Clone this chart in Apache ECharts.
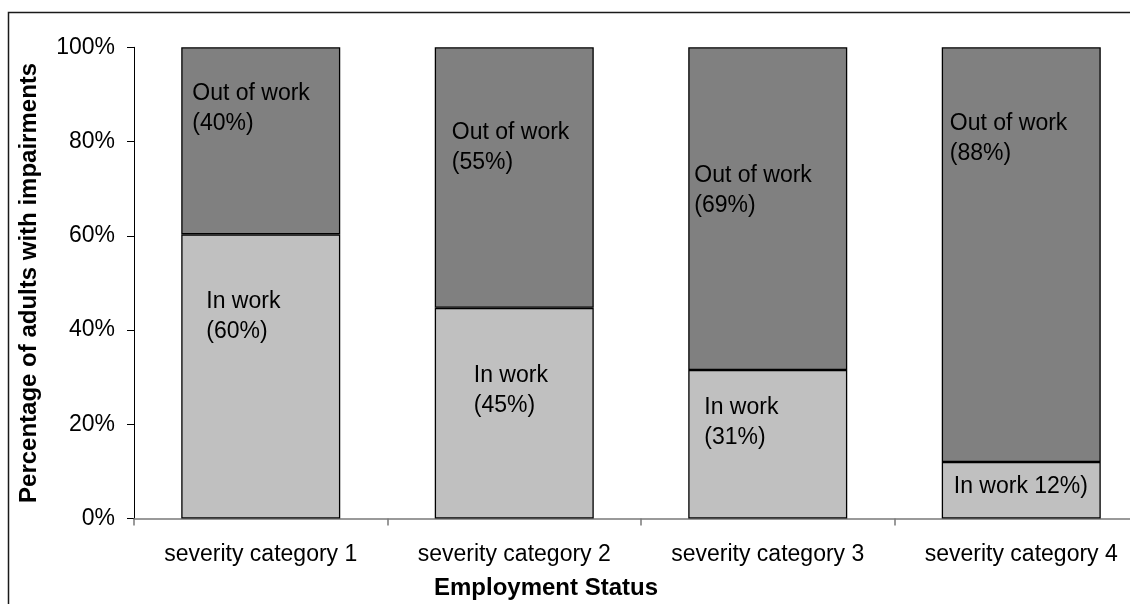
<!DOCTYPE html>
<html>
<head>
<meta charset="utf-8">
<script src="https://cdn.jsdelivr.net/npm/echarts@6/dist/echarts.min.js"></script>
<style>
html,body{margin:0;padding:0;background:#fff;overflow:hidden;}
#chart{width:1170px;height:604px;}
</style>
</head>
<body>
<div id="chart"></div>
<script>
// ---- data ----
var categories = ['severity category 1', 'severity category 2', 'severity category 3', 'severity category 4'];
var inWork = [60.3, 44.7, 31.5, 12.0];
var outOfWork = [39.7, 55.3, 68.5, 88.0];
var inWorkLabels = ['In work\n(60%)', 'In work\n(45%)', 'In work\n(31%)', 'In work 12%)'];
var outOfWorkLabels = ['Out of work\n(40%)', 'Out of work\n(55%)', 'Out of work\n(69%)', 'Out of work\n(88%)'];
var yTicks = [0, 20, 40, 60, 80, 100];

// ---- layout (label placement inside segments, px from segment top-left) ----
var inWorkLabelPos = [[25, 52], [39, 53], [16, 23], [12, 10]];
var outLabelPos = [[11, 31], [17, 70], [6, 113], [8, 61]];

var FONT = 'Liberation Sans, Arial, sans-serif';
var labelStyle = {
  show: true, color: '#000', fontFamily: FONT, fontSize: 23, lineHeight: 30,
  align: 'left', verticalAlign: 'top'
};

function buildSeriesData(values, texts, pos) {
  return values.map(function (v, i) {
    return {
      value: v,
      label: Object.assign({}, labelStyle, {
        position: pos[i],
        formatter: texts[i]
      })
    };
  });
}

var chart = echarts.init(document.getElementById('chart'), null, {renderer: 'canvas'});
chart.setOption({
  animation: false,
  backgroundColor: '#fff',
  grid: {left: 134, top: 47.3, width: 1014, height: 471.2, containLabel: false},
  xAxis: {
    type: 'category',
    data: categories,
    axisLine: {show: true, lineStyle: {color: '#7a7a7a', width: 1.5}},
    axisTick: {show: true, length: 7, lineStyle: {color: '#7a7a7a', width: 1.5}},
    axisLabel: {color: '#000', fontFamily: FONT, fontSize: 23, margin: 25, interval: 0}
  },
  yAxis: {
    type: 'value',
    min: yTicks[0], max: yTicks[yTicks.length - 1], interval: 20,
    name: 'Percentage of adults with impairments',
    nameLocation: 'middle',
    nameGap: 93,
    nameTextStyle: {color: '#000', fontFamily: FONT, fontSize: 24, fontWeight: 'bold'},
    axisLine: {show: true, lineStyle: {color: '#000', width: 1}},
    axisTick: {show: true, length: 7, lineStyle: {color: '#000', width: 1}},
    splitLine: {show: false},
    axisLabel: {color: '#000', fontFamily: FONT, fontSize: 23, margin: 19, formatter: '{value}%'}
  },
  series: [
    {
      name: 'In work', type: 'bar', stack: 'total', barWidth: 159,
      itemStyle: {color: '#c0c0c0', borderColor: '#000', borderWidth: 1.3},
      data: buildSeriesData(inWork, inWorkLabels, inWorkLabelPos)
    },
    {
      name: 'Out of work', type: 'bar', stack: 'total', barWidth: 159,
      itemStyle: {color: '#808080', borderColor: '#000', borderWidth: 1.3},
      data: buildSeriesData(outOfWork, outOfWorkLabels, outLabelPos)
    }
  ],
  graphic: [
    {
      type: 'rect', silent: true, z: 100,
      shape: {x: 8.5, y: 12.5, width: 1300, height: 800},
      style: {fill: 'none', stroke: '#1a1a1a', lineWidth: 1.5}
    },
    {
      type: 'text', silent: true, z: 100,
      x: 546, y: 588,
      style: {
        text: 'Employment Status', fill: '#000', font: 'bold 24px ' + FONT,
        textAlign: 'center', textVerticalAlign: 'middle'
      }
    }
  ]
});
</script>
</body>
</html>
